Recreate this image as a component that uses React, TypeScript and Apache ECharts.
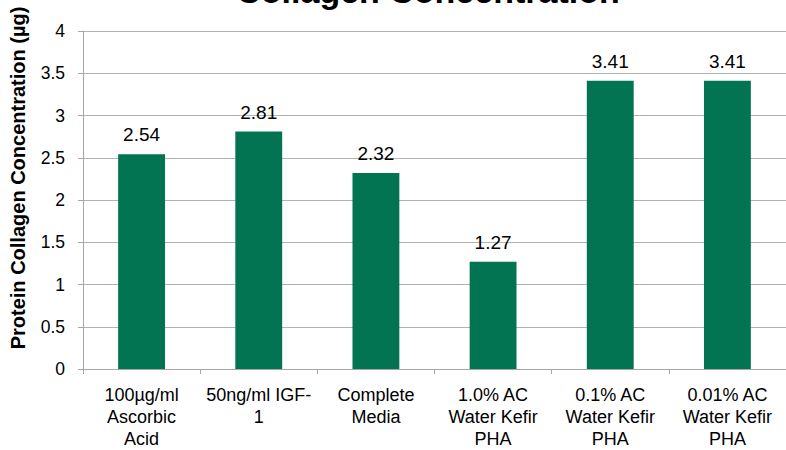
import React, { useEffect, useRef } from "react";
import * as echarts from "echarts";

const categories = [
  "100µg/ml\nAscorbic\nAcid",
  "50ng/ml IGF-\n1",
  "Complete\nMedia",
  "1.0% AC\nWater Kefir\nPHA",
  "0.1% AC\nWater Kefir\nPHA",
  "0.01% AC\nWater Kefir\nPHA",
];
const values = [2.54, 2.81, 2.32, 1.27, 3.41, 3.41];
const titleText = "Collagen Concentration";
const yAxisName = "Protein Collagen Concentration (µg)";

const FONT = "'Liberation Sans', Arial, sans-serif";

export default function App() {
  const ref = useRef<HTMLDivElement>(null);
  useEffect(() => {
    if (!ref.current) return;
    const chart = echarts.init(ref.current, undefined, { renderer: "svg" });
    chart.setOption({
      animation: false,
      backgroundColor: "#ffffff",
      textStyle: { fontFamily: FONT },
      grid: { left: 83, right: -7, top: 31, bottom: 77, containLabel: false },
      graphic: [
        {
          type: "text",
          x: 428,
          y: -9,
          style: {
            text: titleText,
            fontFamily: FONT,
            fontSize: 34,
            fontWeight: "bold",
            fill: "#000",
            textAlign: "center",
            textVerticalAlign: "middle",
          },
        },
        {
          type: "text",
          x: 18,
          y: 178,
          rotation: Math.PI / 2,
          style: {
            text: yAxisName,
            fontFamily: FONT,
            fontSize: 20,
            fontWeight: "bold",
            fill: "#000",
            textAlign: "center",
            textVerticalAlign: "middle",
          },
        },
      ],
      xAxis: {
        type: "category",
        data: categories,
        axisLine: { show: true, lineStyle: { color: "#a6a6a6", width: 1 } },
        axisTick: { show: true, length: 5, lineStyle: { color: "#a6a6a6" } },
        axisLabel: {
          interval: 0,
          margin: 15,
          fontFamily: FONT,
          fontSize: 18,
          lineHeight: 22,
          color: "#000",
        },
      },
      yAxis: {
        type: "value",
        min: 0,
        max: 4,
        interval: 0.5,
        axisLine: { show: true, lineStyle: { color: "#a6a6a6", width: 1 } },
        axisTick: { show: true, length: 5, lineStyle: { color: "#a6a6a6" } },
        splitLine: { show: true, lineStyle: { color: "#b3b3b3", width: 1 } },
        axisLabel: {
          margin: 18,
          fontFamily: FONT,
          fontSize: 17.5,
          color: "#000",
        },
      },
      series: [
        {
          type: "bar",
          data: values,
          barWidth: "40%",
          itemStyle: { color: "#027452" },
          label: {
            show: true,
            position: "top",
            distance: 10,
            fontFamily: FONT,
            fontSize: 19,
            color: "#000",
            formatter: (p: any) => p.value.toFixed(2),
          },
        },
      ],
    });
    return () => chart.dispose();
  }, []);
  return (
    <div
      ref={ref}
      style={{ position: "absolute", left: 0, top: 0, width: 786, height: 450 }}
    />
  );
}
